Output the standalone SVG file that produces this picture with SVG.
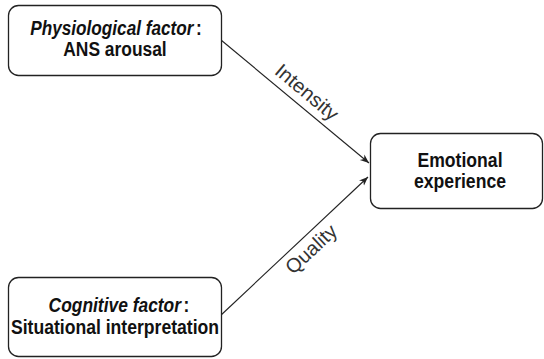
<svg xmlns="http://www.w3.org/2000/svg" width="544" height="359" viewBox="0 0 544 359">
<style>
.box{fill:#fff;stroke:#222;stroke-width:1.3}
.t{font-family:"Liberation Sans",Arial,sans-serif;font-weight:bold;font-size:20px;fill:#111;text-anchor:middle}
.i{font-style:italic}
.lbl{font-family:"Liberation Sans",Arial,sans-serif;font-size:20px;fill:#333;text-anchor:middle}
.edge{stroke:#222;stroke-width:1.1;fill:none}
</style>
<defs>
<marker id="arr" viewBox="0 0 10 10" refX="10" refY="5" markerWidth="9" markerHeight="9" markerUnits="userSpaceOnUse" orient="auto">
<path d="M0,1 L10,5 L0,9 L3,5 Z" fill="#222"/>
</marker>
</defs>
<g id="connectors">
<line class="edge" x1="221" y1="40" x2="369" y2="163" marker-end="url(#arr)"/>
<line class="edge" x1="220" y1="316" x2="368" y2="177" marker-end="url(#arr)"/>
<text class="lbl" x="307" y="99" transform="rotate(40 307 92)" textLength="76" lengthAdjust="spacingAndGlyphs">Intensity</text>
<text class="lbl" x="311" y="256" transform="rotate(-43 311 249)" textLength="62" lengthAdjust="spacingAndGlyphs">Quality</text>
</g>
<g id="physio">
<rect class="box" x="8.5" y="5.5" width="213" height="70" rx="10"/>
<text class="t" transform="translate(116 35) scale(0.86 1)"><tspan class="i">Physiological factor</tspan><tspan dx="3">:</tspan></text>
<text class="t" transform="translate(115 56) scale(0.87 1)">ANS arousal</text>
</g>
<g id="cognitive">
<rect class="box" x="8.5" y="277.5" width="213" height="79" rx="10"/>
<text class="t" transform="translate(119 312) scale(0.87 1)"><tspan class="i">Cognitive factor</tspan><tspan dx="3">:</tspan></text>
<text class="t" transform="translate(115 334) scale(0.88 1)">Situational interpretation</text>
</g>
<g id="emotional">
<rect class="box" x="370.5" y="133.5" width="172" height="75" rx="10"/>
<text class="t" transform="translate(460 167) scale(0.88 1)">Emotional</text>
<text class="t" transform="translate(460 188) scale(0.88 1)">experience</text>
</g>
</svg>
